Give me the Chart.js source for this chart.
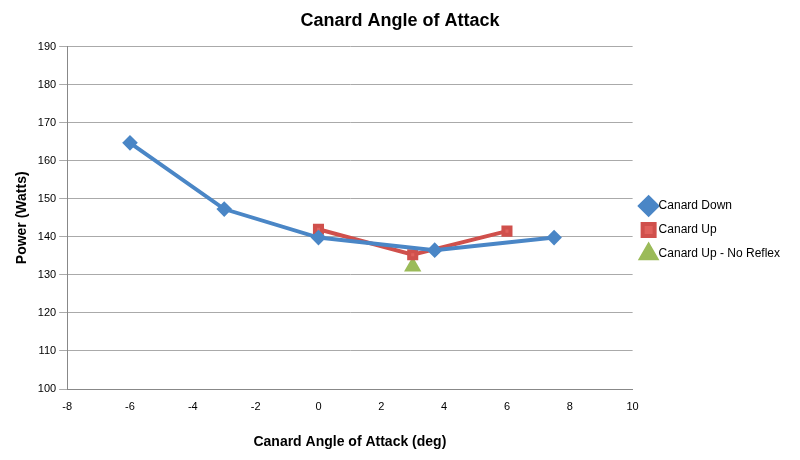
<!DOCTYPE html>
<html><head><script src="https://cdn.jsdelivr.net/npm/chart.js@4/dist/chart.umd.min.js"></script>
<style>body{margin:0;background:#fff}#w{width:800px;height:460px}</style></head>
<body><div id="w"><canvas id="c"></canvas></div>
<script>
const downX=[-6,-3,0,3.7,7.5], downY=[164.7,147.3,139.8,136.5,139.8];
const upX=[0,3,6], upY=[142,135.3,141.5];
const nrX=[3], nrY=[132.2];
const pts=(x,y)=>x.map((v,i)=>({x:v,y:y[i]}));
new Chart(document.getElementById('c'),{type:'scatter',data:{datasets:[
{label:'Canard Down',data:pts(downX,downY),showLine:true,borderColor:'#4a86c6',backgroundColor:'#4a86c6',borderWidth:4,pointStyle:'rectRot',pointRadius:5},
{label:'Canard Up',data:pts(upX,upY),showLine:true,borderColor:'#d0504c',backgroundColor:'#e0615c',borderWidth:4,pointStyle:'rect',pointRadius:5},
{label:'Canard Up - No Reflex',data:pts(nrX,nrY),showLine:true,borderColor:'#9bbb59',backgroundColor:'#9bbb59',borderWidth:4,pointStyle:'triangle',pointRadius:6}
]},options:{responsive:true,maintainAspectRatio:false,animation:false,
layout:{padding:{top:5,right:10,left:10,bottom:5}},
plugins:{title:{display:true,text:'Canard Angle of Attack',font:{family:'Liberation Sans',size:18,weight:'bold'},color:'#000',padding:{top:5,bottom:15}},
legend:{position:'right',labels:{usePointStyle:true,boxWidth:8,font:{family:'Liberation Sans',size:12},color:'#000',padding:12}}},
scales:{x:{type:'linear',min:-8,max:10,ticks:{stepSize:2,color:'#000',font:{family:'Liberation Sans',size:11}},grid:{display:false},border:{color:'#888'},
title:{display:true,text:'Canard Angle of Attack (deg)',font:{family:'Liberation Sans',size:14,weight:'bold'},color:'#000',padding:{top:18}}},
y:{min:100,max:190,ticks:{stepSize:10,color:'#000',font:{family:'Liberation Sans',size:11}},grid:{color:'#aaa'},border:{color:'#888'},
title:{display:true,text:'Power (Watts)',font:{family:'Liberation Sans',size:14,weight:'bold'},color:'#000'}}}}});
</script></body></html>
